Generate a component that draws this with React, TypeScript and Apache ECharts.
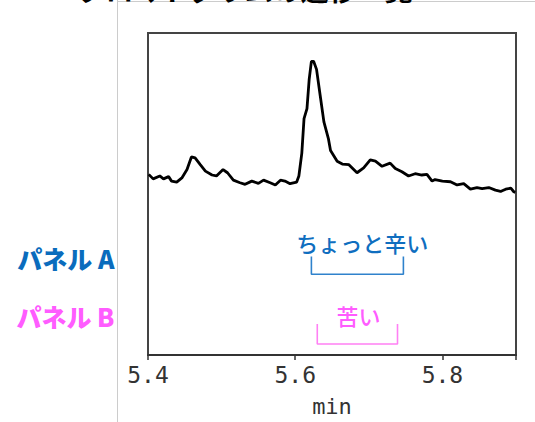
import React, { useEffect, useRef } from "react";
import * as echarts from "echarts";

const titleText = "クロマトグラムの遷移一覧";
const traceTime = [
  5.401, 5.407, 5.416, 5.421, 5.428, 5.432, 5.439, 5.446, 5.453, 5.459, 5.464, 5.471,
  5.478, 5.487, 5.493, 5.502, 5.508, 5.516, 5.525, 5.532, 5.541, 5.55, 5.557, 5.566,
  5.573, 5.58, 5.586, 5.593, 5.602, 5.605, 5.609, 5.612, 5.616, 5.619, 5.622, 5.625,
  5.629, 5.634, 5.639, 5.645, 5.648, 5.657, 5.664, 5.673, 5.684, 5.693, 5.702, 5.709,
  5.718, 5.729, 5.736, 5.745, 5.754, 5.763, 5.772, 5.779, 5.786, 5.79, 5.8, 5.811,
  5.82, 5.829, 5.838, 5.847, 5.854, 5.863, 5.872, 5.879, 5.886, 5.893, 5.897, 5.899,
];
const traceIntensity = [
  56.1, 54.7, 55.6, 54.7, 55.4, 54.0, 53.7, 55.0, 57.6, 61.5, 61.2, 59.1,
  57.1, 55.9, 55.6, 57.6, 56.6, 54.3, 53.5, 53.0, 54.0, 53.3, 54.3, 53.5,
  52.8, 54.3, 54.0, 53.2, 53.7, 55.6, 62.7, 73.4, 76.5, 85.6, 91.2, 91.2,
  88.7, 80.5, 72.4, 67.3, 63.5, 60.2, 59.3, 59.1, 56.6, 58.1, 60.6, 60.2,
  58.6, 59.6, 57.9, 56.9, 55.6, 56.3, 55.9, 56.1, 54.0, 54.5, 54.0, 53.8,
  52.8, 53.2, 51.5, 52.0, 51.7, 52.0, 51.2, 50.8, 51.5, 51.8, 50.7, 50.5,
];
const xTickLabels = ["5.4", "5.6", "5.8"];
const panelLabels = ["パネル A", "パネル B"];
const panelLevels = [30, 12.2];
const panelColors = ["#0a6cbd", "#ff5cff"];
const annotationTexts = ["ちょっと辛い", "苦い"];
const annotationCenters = [5.691, 5.686];
const annotationLevels = [35.2, 12.5];
const annotationColors = ["#0f6ebf", "#ff5cff"];
const bracketColors = ["#2f82cc", "#ff80f4"];
const bracketStarts = [5.622, 5.63];
const bracketEnds = [5.747, 5.739];
const bracketTops = [30.6, 9.6];
const bracketBottoms = [25.1, 3.4];

const mono = "'DejaVu Sans Mono', 'Liberation Mono', monospace";
const cjk = "'Noto Sans CJK JP', 'Noto Sans', sans-serif";

export default function App() {
  const ref = useRef<HTMLDivElement>(null);
  useEffect(() => {
    if (!ref.current) return;
    const chart = echarts.init(ref.current, null, { renderer: "svg" });
    const series: any[] = [
      {
        type: "line",
        data: traceTime.map((t, i) => [t, traceIntensity[i]]),
        showSymbol: false,
        symbol: "none",
        lineStyle: { color: "#000", width: 2.8 },
        z: 5,
      },
    ];
    bracketStarts.forEach((s, i) => {
      series.push({
        type: "line",
        data: [
          [s, bracketTops[i]],
          [s, bracketBottoms[i]],
          [bracketEnds[i], bracketBottoms[i]],
          [bracketEnds[i], bracketTops[i]],
        ],
        symbol: "none",
        lineStyle: { color: bracketColors[i], width: 1.6 },
      });
      series.push({
        type: "scatter",
        data: [[annotationCenters[i], annotationLevels[i], annotationTexts[i]]],
        symbolSize: 1,
        itemStyle: { color: "rgba(0,0,0,0)", opacity: 1 },
        label: {
          show: true,
          position: "inside",
          formatter: (p: any) => p.data[2],
          color: annotationColors[i],
          textBorderWidth: 0,
          fontSize: 22,
          fontFamily: cjk,
          fontWeight: 500,
        },
      });
      series.push({
        type: "scatter",
        data: [[5.4, panelLevels[i], panelLabels[i]]],
        symbolSize: 1,
        clip: false,
        itemStyle: { color: "rgba(0,0,0,0)", opacity: 1 },
        label: {
          show: true,
          position: "left",
          distance: 33,
          formatter: (p: any) => p.data[2],
          color: panelColors[i],
          fontSize: 25,
          fontWeight: 900,
          fontFamily: cjk,
        },
      });
    });
    chart.setOption({
      animation: false,
      backgroundColor: "#fff",
      grid: {
        left: 148,
        right: 19,
        top: 33,
        bottom: 62,
        show: true,
        borderColor: "#444",
        borderWidth: 2,
        containLabel: false,
      },
      xAxis: {
        type: "value",
        min: 5.4,
        max: 5.9,
        interval: 0.2,
        name: "min",
        nameLocation: "middle",
        nameGap: 40,
        nameTextStyle: { fontFamily: mono, fontSize: 22, color: "#333" },
        axisLine: { show: true, lineStyle: { color: "#333", width: 2 } },
        axisTick: { show: true, length: 5, lineStyle: { color: "#333", width: 1.5 } },
        splitLine: { show: false },
        axisLabel: {
          fontFamily: mono,
          fontSize: 23,
          color: "#333",
          margin: 8,
          formatter: (v: number) => {
            const s = v.toFixed(1);
            return xTickLabels.includes(s) ? s : "";
          },
        },
      },
      yAxis: {
        type: "value",
        min: 0,
        max: 100,
        axisLine: { show: false },
        axisTick: { show: false },
        axisLabel: { show: false },
        splitLine: { show: false },
      },
      graphic: [
        { type: "line", shape: { x1: 117.5, y1: 0, x2: 117.5, y2: 422 }, style: { stroke: "#ccc", lineWidth: 1 } },
        { type: "line", shape: { x1: 117, y1: 1.5, x2: 535, y2: 1.5 }, style: { stroke: "#ccc", lineWidth: 1 } },
        {
          type: "text",
          x: 245,
          y: 3,
          style: {
            text: titleText,
            fontSize: 28,
            fontWeight: "bold",
            fontFamily: cjk,
            fill: "#000",
            textAlign: "center",
            textVerticalAlign: "bottom",
          },
        },
      ],
      series,
    });
    return () => chart.dispose();
  }, []);
  return (
    <div style={{ position: "fixed", left: 0, top: 0 }}>
      <div ref={ref} style={{ width: 535, height: 422 }} />
    </div>
  );
}
